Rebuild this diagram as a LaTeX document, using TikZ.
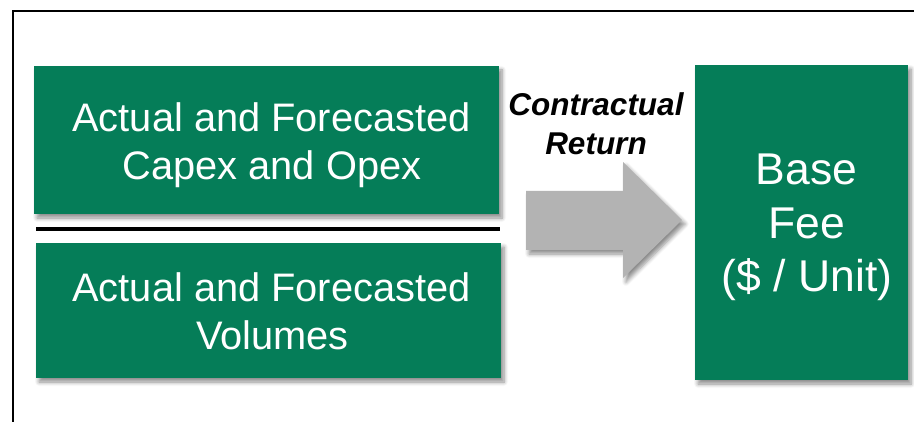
\documentclass[tikz,border=0pt]{standalone}
\usepackage{fontspec}
\setmainfont{Liberation Sans}
\usetikzlibrary{shadows.blur}
\definecolor{boxgreen}{RGB}{5,125,88}
\definecolor{arrowgray}{RGB}{179,179,179}
\begin{document}
\begin{tikzpicture}[x=1pt,y=-1pt,
  shad/.style={blur shadow={shadow xshift=3pt, shadow yshift=-4pt, shadow blur steps=6, shadow opacity=45, shadow blur radius=4pt}},
  gbox/.style={fill=boxgreen, inner sep=0pt, shad},
  wtxt/.style={text=white, anchor=base, inner sep=0pt, font=\fontsize{39.8}{48}\selectfont},
  ftxt/.style={text=white, anchor=base, inner sep=0pt, font=\fontsize{44.5}{53}\selectfont},
  lbl/.style={font=\fontsize{31.5}{39}\selectfont\bfseries\itshape, anchor=base, inner sep=0pt},
]
\useasboundingbox (0,0) rectangle (914,422);
\draw[line width=2pt] (13,11) rectangle (940,450);
\node[gbox, minimum width=465pt, minimum height=148pt] (capex) at (266.5,140) {};
\node[gbox, minimum width=465pt, minimum height=135pt] (vol) at (268.5,310.5) {};
\node[gbox, minimum width=213pt, minimum height=315pt] (fee) at (801.5,222.5) {};
\node[wtxt] (c1) at (271.5,132) {Actual and Forecasted};
\node[wtxt] (c2) at (272,180) {Capex and Opex};
\node[wtxt] (v1) at (271.5,302) {Actual and Forecasted};
\node[wtxt] (v2) at (272.5,350) {Volumes};
\node[ftxt] (f1) at (806.5,185) {Base};
\node[ftxt] (f2) at (806.5,239) {Fee};
\node[ftxt] (f3) at (807,292) {(\$ / Unit)};
\coordinate (sepL) at (36,229.5);
\coordinate (sepR) at (500,229.5);
\draw[line width=4pt] (sepL) -- (sepR);
\fill[arrowgray, shad]
  (526,191) -- (623,191) -- (623,162) -- (682,220) -- (623,278) -- (623,250) -- (526,250) -- cycle;
\node[lbl] (ct) at (596,116) {Contractual};
\node[lbl] (rt) at (596,155) {Return};
\end{tikzpicture}
\end{document}
